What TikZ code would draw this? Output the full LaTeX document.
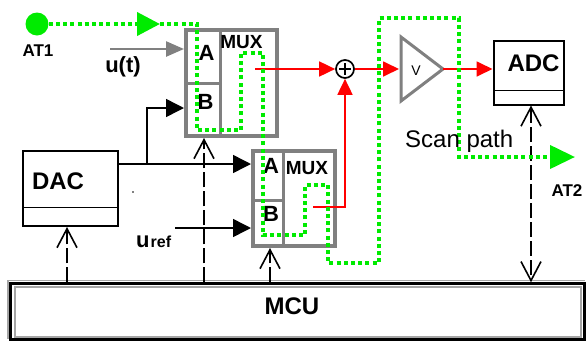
\documentclass[tikz,border=0pt]{standalone}
\usepackage{fontspec}
\setmainfont{Liberation Sans}
\usetikzlibrary{arrows.meta,calc}
\definecolor{grn}{RGB}{0,235,0}
\definecolor{mgray}{RGB}{128,128,128}
\definecolor{lgray}{RGB}{165,165,165}
\begin{document}
\begin{tikzpicture}[x=1pt,y=-1pt,
  muxbox/.style={draw=mgray, line width=4pt, inner sep=0pt, outer sep=2pt},
  blkbox/.style={draw=black, line width=2pt, inner sep=0pt, outer sep=1pt},
  divline/.style={draw=mgray, line width=3pt},
  bigtxt/.style={inner sep=0pt, font=\fontsize{24}{28}\selectfont\bfseries},
  abtxt/.style={inner sep=0pt, font=\fontsize{22}{26}\selectfont\bfseries},
  muxtxt/.style={inner sep=0pt, font=\fontsize{19}{22}\selectfont\bfseries},
  attxt/.style={inner sep=0pt, font=\fontsize{17}{20}\selectfont\bfseries},
  grndot/.style={draw=grn, line width=4pt, dash pattern=on 4pt off 3.2pt},
  redarr/.style={draw=red, line width=1.8pt, -{Triangle[length=16pt,width=15pt]}},
  blkarr/.style={draw=black, line width=1.5pt, -{Triangle[length=18pt,width=18pt]}},
  grayarr/.style={draw=mgray, line width=2.5pt, -{Triangle[length=18pt,width=15pt]}},
  dasharr/.style={draw=black, line width=1.6pt, dash pattern=on 15pt off 4pt, -{Straight Barb[length=19pt,width=20pt]}}
]
\useasboundingbox (0,0) rectangle (587,341);

% MCU
\draw[lgray, line width=1.5pt] (8,339) -- (8,280.5) -- (585,280.5);
\node[draw=black, line width=2.5pt, minimum width=574pt, minimum height=56pt, inner sep=0pt, outer sep=1.25pt] (mcu) at (297.5,311.5) {};
\draw[lgray, line width=2pt] (14.5,286.5) rectangle (580.5,336.5);
\node[bigtxt] (mcutxt) at (292,306) {MCU};

% DAC
\node[blkbox, minimum width=95pt, minimum height=75pt] (dac) at (70.5,188.5) {};
\draw[line width=1pt] (23,207) -- (118,207);
\node[bigtxt] (dactxt) at (58,181) {DAC};

% ADC
\node[blkbox, minimum width=70.5pt, minimum height=63.5pt] (adc) at (528.75,72.75) {};
\draw[line width=1pt] (493.5,90) -- (564,90);
\node[bigtxt] (adctxt) at (533.5,63) {ADC};

% MUX1
\node[muxbox, minimum width=91pt, minimum height=106pt] (mux1) at (231.5,83) {};
\draw[divline] (220,30) -- (220,136);
\draw[divline] (186,83) -- (220,83);
\node[abtxt] (m1a) at (206.5,53) {A};
\node[abtxt] (m1b) at (205.5,102) {B};
\node[muxtxt] (m1t) at (241.5,42) {MUX};

% MUX2
\node[muxbox, minimum width=81.5pt, minimum height=95pt] (mux2) at (293.75,198.5) {};
\draw[divline] (283,151) -- (283,246);
\draw[divline] (253,200) -- (283,200);
\node[abtxt] (m2a) at (271,166) {A};
\node[abtxt] (m2b) at (271,214) {B};
\node[muxtxt] (m2t) at (307,168) {MUX};

% sum
\node[circle, draw=black, line width=1.7pt, minimum size=18pt, inner sep=0pt] (sum) at (345,69) {};
\draw[line width=1.5pt] ($(sum.center)+(-6,0)$) -- ($(sum.center)+(6,0)$);
\draw[line width=1.5pt] ($(sum.center)+(0,-6)$) -- ($(sum.center)+(0,6)$);

% amplifier
\coordinate (ampin) at (401,69);
\coordinate (ampout) at (443,69);
\draw[mgray, line width=3pt, line join=miter] (401,37) -- (443,69) -- (401,101) -- cycle;
\node[inner sep=0pt, font=\fontsize{14}{16}\selectfont] (vtxt) at (416,71) {V};

% red signal path
\coordinate (m1out) at (255,69);
\coordinate (m2out) at (313,207);
\draw[redarr] (m1out) -- (sum.west);
\draw[redarr] (m2out) -| (sum.south);
\draw[redarr, shorten >=2pt] (sum.east) -- (ampin);
\draw[redarr] (ampout) -- (adc.west |- ampout);

% black inputs
\coordinate (dacout) at (118,164);
\coordinate (br) at (147,164);
\coordinate (uref) at (175,228);
\draw[blkarr] (dacout) -- (mux2.west |- dacout);
\draw[blkarr] (br) |- (mux1.west |- 0,108);
\draw[blkarr] (uref) -- (mux2.west |- uref);
\fill (133,192) circle (0.8pt);

% u(t)
\coordinate (ut) at (110,49);
\draw[grayarr] (ut) -- (mux1.west |- ut);
\node[inner sep=0pt, font=\fontsize{22}{26}\selectfont\bfseries] (uttxt) at (123,67) {u(t)};
\node[inner sep=0pt, anchor=base west, font=\bfseries] (ureftxt) at (136,247) {\fontsize{22}{26}\selectfont u\kern1pt\fontsize{16}{18}\selectfont ref};

% dashed control lines
\coordinate (xdac) at (67,0);
\coordinate (xm1) at (204,0);
\coordinate (xm2) at (270,0);
\coordinate (xadc) at (531,0);
\draw[dasharr] (mcu.north -| xdac) -- (dac.south -| xdac);
\draw[dasharr] (mcu.north -| xm1) -- (mux1.south -| xm1);
\draw[dasharr] (mcu.north -| xm2) -- (mux2.south -| xm2);
\draw[dasharr, {Straight Barb[length=19pt,width=20pt]}-{Straight Barb[length=19pt,width=20pt]}] (adc.south -| xadc) -- (mcu.north -| xadc);

% scan path
\node[circle, fill=grn, minimum size=23pt, inner sep=0pt] (at1) at (37,24) {};
\node[attxt] (at1txt) at (38,51) {AT1};
\coordinate (at1tip) at (160,24);
\coordinate (at2tip) at (575,157);
\draw[grndot, -{Triangle[length=23pt,width=23pt]}] (at1.east) -- (at1tip);
\draw[grndot, -{Triangle[length=25pt,width=23pt]}] (at1tip) -- (197,24) -- (197,130) -- (241,130) -- (241,53) -- (263,53) -- (263,235) -- (305,235) -- (305,185) -- (328,185) -- (328,263) -- (379,263) -- (379,18) -- (459,18) -- (459,157) -- (at2tip);
\node[attxt] (at2txt) at (567,191) {AT2};
\node[inner sep=0pt, anchor=base west, font=\fontsize{24}{28}\selectfont] (scantxt) at (405,147) {Scan path};
\end{tikzpicture}
\end{document}
